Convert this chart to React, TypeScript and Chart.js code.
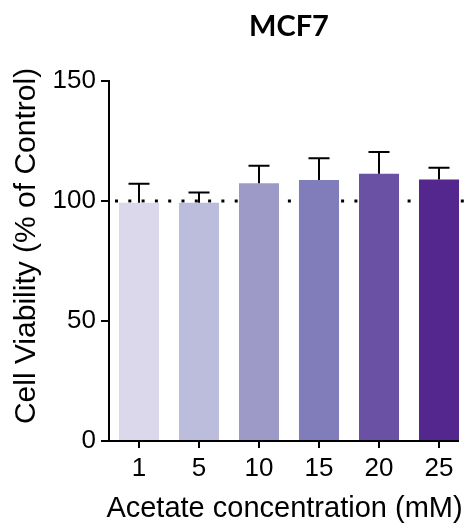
import React, { useEffect, useRef } from "react";
import { Chart, registerables } from "chart.js";

Chart.register(...registerables);

const categories = ["1", "5", "10", "15", "20", "25"];
const means = [99.3, 99.3, 107.4, 108.8, 111.4, 109.0];
const sems = [7.9, 4.2, 7.3, 9.0, 9.0, 4.9];
const barColors = ["#dad8ea", "#bcbcdc", "#9e9ac8", "#807dba", "#6a51a3", "#54278f"];
const yTicks = [0, 50, 100, 150];
const referenceLine = 100;
const yTitle = "Cell Viability (% of Control)";
const xTitle = "Acetate concentration (mM)";

const errorBarPlugin = {
  id: "errorBars",
  afterDatasetsDraw(chart: any) {
    const { ctx } = chart;
    const yScale = chart.scales.y;
    const meta = chart.getDatasetMeta(0);
    ctx.save();
    ctx.strokeStyle = "#000";
    ctx.lineWidth = 2;
    meta.data.forEach((bar: any, i: number) => {
      const x = bar.x;
      const yBar = yScale.getPixelForValue(means[i]);
      const yTop = yScale.getPixelForValue(means[i] + sems[i]);
      ctx.beginPath();
      ctx.moveTo(x, yBar);
      ctx.lineTo(x, yTop);
      ctx.moveTo(x - 10.5, yTop);
      ctx.lineTo(x + 10.5, yTop);
      ctx.stroke();
    });
    ctx.restore();
  },
};

const refLinePlugin = {
  id: "refLine",
  beforeDatasetsDraw(chart: any) {
    const { ctx, chartArea } = chart;
    const y = chart.scales.y.getPixelForValue(referenceLine);
    ctx.save();
    ctx.strokeStyle = "#000";
    ctx.lineWidth = 3;
    ctx.setLineDash([3, 10.3]);
    ctx.lineDashOffset = -6;
    ctx.beginPath();
    ctx.moveTo(chartArea.left, y);
    ctx.lineTo(chartArea.right, y);
    ctx.stroke();
    ctx.restore();
  },
};

const xAxisLinePlugin = {
  id: "xAxisLine",
  afterDatasetsDraw(chart: any) {
    const { ctx, chartArea } = chart;
    const meta = chart.getDatasetMeta(0);
    const last = meta.data[meta.data.length - 1];
    const y = chart.scales.y.getPixelForValue(0);
    ctx.save();
    ctx.strokeStyle = "#000";
    ctx.lineWidth = 2;
    ctx.beginPath();
    ctx.moveTo(chartArea.left - 1, y);
    ctx.lineTo(last.x + last.width / 2, y);
    ctx.stroke();
    ctx.restore();
  },
};

const axisTitlesPlugin = {
  id: "axisTitles",
  afterDraw(chart: any) {
    const { ctx, chartArea } = chart;
    const yScale = chart.scales.y;
    const cy = (yScale.getPixelForValue(0) + yScale.getPixelForValue(150)) / 2 - 15;
    ctx.save();
    ctx.fillStyle = "#000";
    ctx.textAlign = "center";
    ctx.textBaseline = "middle";
    ctx.translate(27, cy);
    ctx.rotate(-Math.PI / 2);
    ctx.font = "30px 'Liberation Sans'";
    ctx.fillText(yTitle, 0, 0);
    ctx.restore();

    ctx.save();
    ctx.fillStyle = "#000";
    ctx.textAlign = "center";
    ctx.textBaseline = "middle";
    ctx.font = "29px 'Liberation Sans'";
    const cx = (chartArea.left + chartArea.right) / 2 - 4.5;
    ctx.fillText(xTitle, cx, chart.height - 20);
    ctx.restore();
  },
};

export default function App() {
  const ref = useRef<HTMLCanvasElement | null>(null);
  useEffect(() => {
    if (!ref.current) return;
    const chart = new Chart(ref.current, {
      type: "bar",
      data: {
        labels: categories,
        datasets: [
          {
            data: means,
            backgroundColor: barColors,
            borderWidth: 0,
            categoryPercentage: 1,
            barPercentage: 0.667,
          },
        ],
      },
      options: {
        animation: false,
        responsive: false,
        maintainAspectRatio: false,
        layout: { padding: { left: 0, right: 2, top: 0, bottom: 0 } },
        plugins: {
          legend: { display: false },
          tooltip: { enabled: false },
          title: {
            display: true,
            text: "MCF7",
            fullSize: false,
            color: "#000",
            font: { family: "Lato", size: 29, weight: "bold" },
            padding: { top: 9.6, bottom: 36.6 },
          },
        },
        scales: {
          x: {
            offset: true,
            grid: {
              offset: false,
              drawOnChartArea: false,
              drawTicks: true,
              tickLength: 7,
              color: "#000",
              lineWidth: 2,
            },
            border: { display: false },
            ticks: {
              color: "#000",
              font: { family: "Liberation Sans", size: 26 },
              padding: 5,
              maxRotation: 0,
            },
            title: { display: false },
            afterFit(scale: any) {
              scale.height = 88;
            },
          },
          y: {
            min: 0,
            max: 150,
            afterBuildTicks(scale: any) {
              scale.ticks = yTicks.map((v) => ({ value: v }));
            },
            grid: {
              drawOnChartArea: false,
              drawTicks: true,
              tickLength: 8,
              color: "#000",
              lineWidth: 2,
            },
            border: { display: true, color: "#000", width: 2 },
            ticks: {
              color: "#000",
              font: { family: "Liberation Sans", size: 26 },
              padding: 5,
            },
            title: { display: false },
            afterFit(scale: any) {
              scale.width = 109;
            },
          },
        },
      },
      plugins: [refLinePlugin, errorBarPlugin, xAxisLinePlugin, axisTitlesPlugin],
    });
    return () => chart.destroy();
  }, []);
  return (
    <div style={{ position: "fixed", left: 0, top: 0, width: 471, height: 529, background: "#fff" }}>
      <canvas ref={ref} width={471} height={529} style={{ display: "block" }} />
    </div>
  );
}
